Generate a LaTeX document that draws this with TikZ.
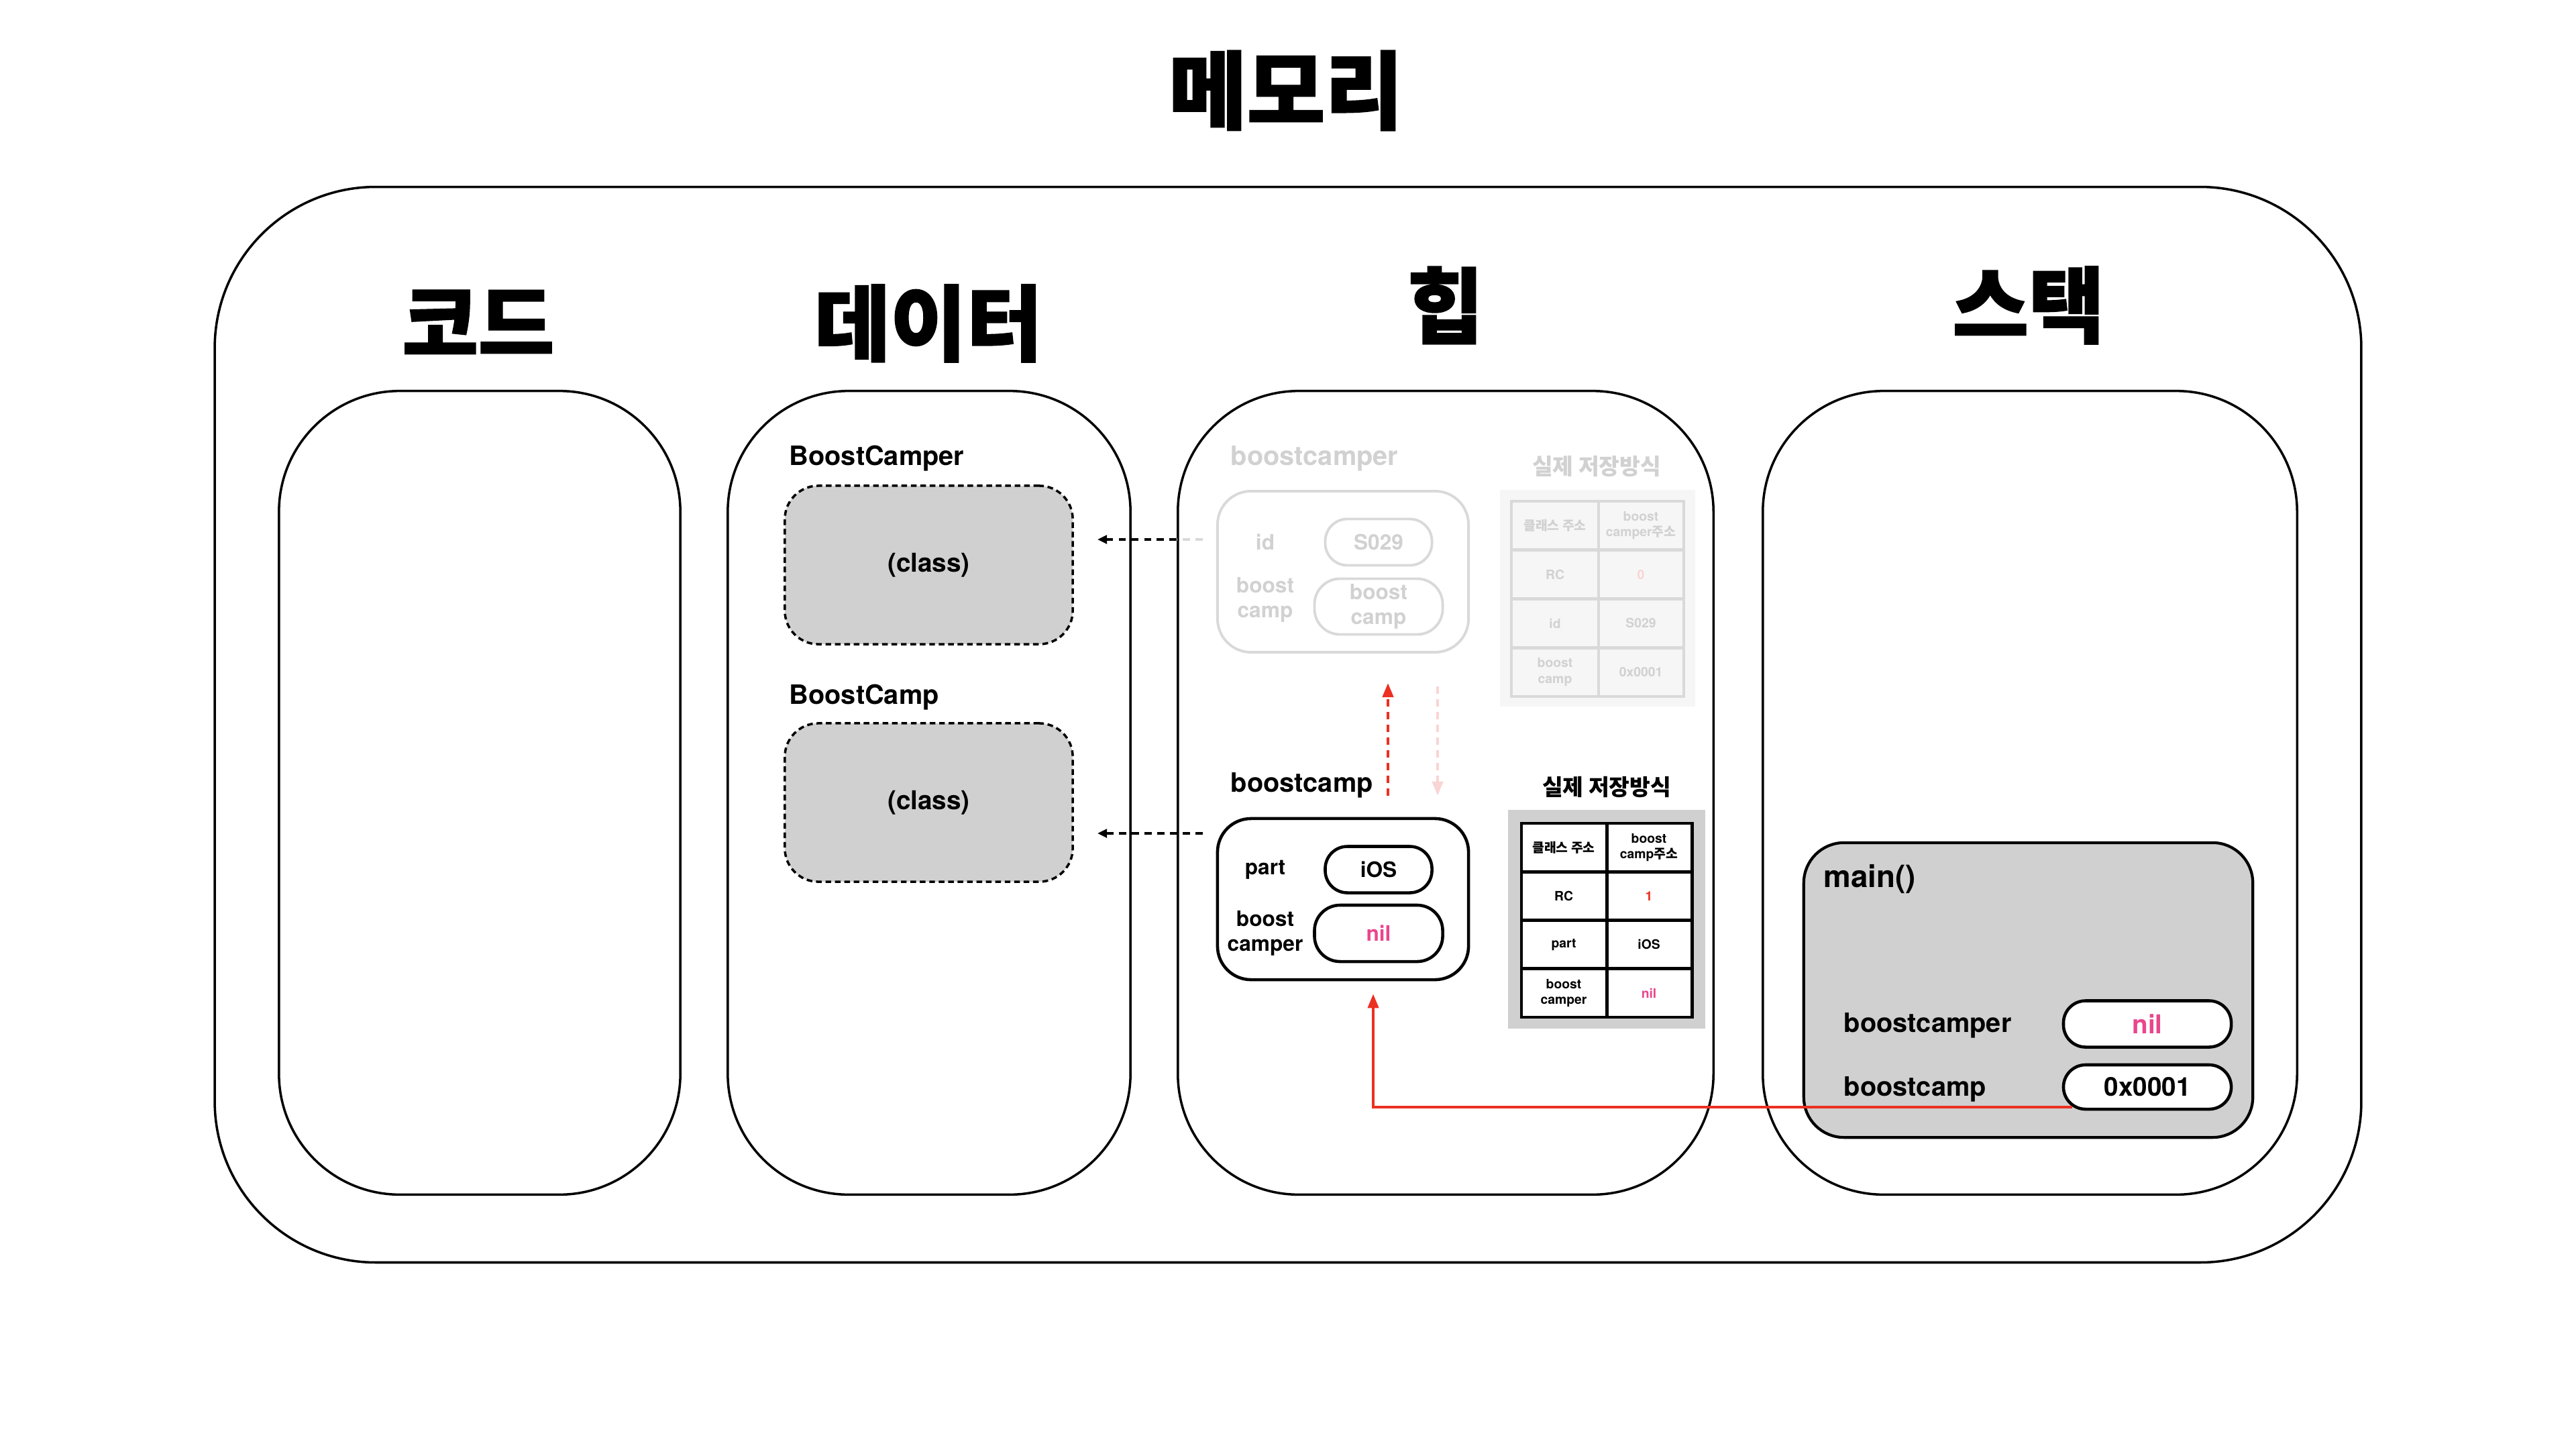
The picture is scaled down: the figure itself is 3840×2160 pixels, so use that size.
\documentclass[tikz,border=0pt]{standalone}
\usepackage{fontspec}
\setmainfont{TeX Gyre Heros}
\newfontfamily\kr{Noto Sans CJK KR}
\newfontfamily\krheavy{Noto Sans CJK KR}[FakeBold=1.6]
\usepackage{tikz}
\usetikzlibrary{arrows.meta, positioning, calc}
\definecolor{boxGray}{gray}{0.815}
\definecolor{fadeLine}{gray}{0.85}
\definecolor{fadeText}{gray}{0.82}
\definecolor{fadeBg}{gray}{0.965}
\definecolor{ptrRed}{RGB}{236,48,34}
\definecolor{nilPink}{RGB}{234,70,140}
\definecolor{fadeRed}{RGB}{250,212,212}

\begin{document}
\begin{tikzpicture}[x=0.01cm, y=-0.01cm, font=\bfseries,
    area/.style={draw, line width=1pt, rounded corners=1.8cm, minimum height=11.97cm},
    heading/.style={font=\krheavy\bfseries\fontsize{35}{40}\selectfont},
    classbox/.style={draw, dash pattern=on 2.4pt off 1.6pt, line width=1pt, fill=boxGray,
        rounded corners=0.5cm, minimum width=4.29cm, minimum height=2.36cm,
        font=\bfseries\fontsize{11}{13}\selectfont},
    objbox/.style={draw, line width=1.3pt, rounded corners=0.5cm, minimum width=3.74cm, minimum height=2.4cm},
    pill/.style={draw, line width=1.3pt, rounded corners=0.33cm, minimum width=1.59cm,
        minimum height=0.69cm, inner sep=0pt, align=center, font=\bfseries\fontsize{9}{10.5}\selectfont},
    field/.style={align=center, font=\bfseries\fontsize{9}{10.5}\selectfont},
    title/.style={anchor=west, inner xsep=0pt, font=\bfseries\fontsize{11.3}{13}\selectfont},
    cell/.style={align=center, inner sep=0pt, font=\bfseries\fontsize{5.5}{6.6}\selectfont},
    faded/.style={draw=fadeLine, text=fadeText},
    ref/.style={dash pattern=on 3pt off 2.4pt, line width=1pt, -{Triangle[length=4pt,width=3.6pt]}},
    ptr/.style={ptrRed, line width=1.1pt, -{Triangle[length=6pt,width=4.6pt]}}]

\useasboundingbox (0,0) rectangle (3840,2160);

% memory
\node[heading, font=\krheavy\bfseries\fontsize{36}{42}\selectfont] (mem) at (1917,135) {메모리};
\node[draw, line width=1pt, rounded corners=2.4cm, minimum width=31.98cm, minimum height=16.02cm] (memory) at (1920,1080) {};

\node[area, minimum width=5.98cm] (code) at (715,1181.5) {};
\node[area, minimum width=6cm] (data) at (1385,1181.5) {};
\node[area, minimum width=7.98cm] (heap) at (2155,1181.5) {};
\node[area, minimum width=7.96cm] (stack) at (3026,1181.5) {};

\node[heading] (codeT) at (713,480) {코드};
\node[heading] (dataT) at (1384,482) {데이터};
\node[heading] (heapT) at (2155,455) {힙};
\node[heading] (stackT) at (3024,455) {스택};

% data
\node[title] (camperT) at (1176,683) {BoostCamper};
\node[classbox] (camperCls) at (1384.5,842) {(class)};
\node[title] (campT) at (1176,1039) {BoostCamp};
\node[classbox] (campCls) at (1384.5,1196) {(class)};

% heap : boostcamper (released)
\node[title, text=fadeText] (camperH) at (1834,683) {boostcamper};
\node[objbox, faded, line width=1.1pt] (camperObj) at (2002,852) {};
\node[field, text=fadeText] (idF) at (1886,808) {id};
\node[pill, faded, line width=1.1pt] (idV) at (2055,808) {S029};
\node[field, text=fadeText] (campF) at (1886,894) {boost\\camp};
\node[pill, faded, line width=1.1pt, minimum width=1.91cm, minimum height=0.83cm, rounded corners=0.38cm] (campV) at (2055,904) {boost\\camp};

\node[font=\kr\bfseries\fontsize{9.5}{11}\selectfont, text=fadeText] (storeA) at (2380,695) {실제 저장방식};
\fill[fadeBg] (2236,730) rectangle (2527,1053);
\draw[fadeLine, line width=1.3pt] (2253,747) rectangle (2510,1038) (2383,747) -- (2383,1038);
\foreach \r in {1,2,3}
    \draw[fadeLine, line width=1.3pt] (2253,{747+72.75*\r}) -- (2510,{747+72.75*\r});
\foreach \a/\b [count=\r] in {{\kr 클래스 주소}/{boost\\camper{\kr 주소}}, RC/{\color{fadeRed}0}, id/S029, {boost\\camp}/0x0001}{
    \node[cell, text=fadeText] (fa\r) at (2318,{747+72.75*(\r-0.5)}) {\a};
    \node[cell, text=fadeText] (fb\r) at (2446,{747+72.75*(\r-0.5)}) {\b};
}

% heap : boostcamp
\node[title] (campH) at (1834,1170) {boostcamp};
\node[objbox] (campObj) at (2002,1340) {};
\node[field] (partF) at (1886,1296) {part};
\node[pill] (partV) at (2055,1296) {iOS};
\node[field] (camperF) at (1886,1391) {boost\\camper};
\node[pill, minimum width=1.91cm, minimum height=0.84cm, rounded corners=0.38cm, text=nilPink] (camperV) at (2055,1391) {nil};

\node[font=\kr\bfseries\fontsize{9.5}{11}\selectfont] (storeB) at (2395,1173) {실제 저장방식};
\fill[boxGray] (2248,1207) rectangle (2542,1533);
\fill[white] (2268,1227) rectangle (2522,1516);
\draw[line width=1.4pt] (2268,1227) rectangle (2522,1516) (2395,1227) -- (2395,1516);
\foreach \r in {1,2,3}
    \draw[line width=1.4pt] (2268,{1227+72.25*\r}) -- (2522,{1227+72.25*\r});
\foreach \a/\b [count=\r] in {{\kr 클래스 주소}/{boost\\camp{\kr 주소}}, RC/{\color{ptrRed}1}, part/iOS, {boost\\camper}/{\color{nilPink}nil}}{
    \node[cell] (ba\r) at (2331,{1227+72.25*(\r-0.5)}) {\a};
    \node[cell] (bb\r) at (2458,{1227+72.25*(\r-0.5)}) {\b};
}

% stack
\node[draw, line width=1.2pt, fill=boxGray, rounded corners=0.6cm, minimum width=6.69cm, minimum height=4.39cm] (mainF) at (3023.5,1475.5) {};
\node[anchor=west, inner xsep=0pt, font=\bfseries\fontsize{13}{15}\selectfont] (mainT) at (2718,1310) {main()};
\node[title] (camperS) at (2748,1528) {boostcamper};
\node[pill, fill=white, minimum width=2.5cm, text=nilPink, font=\bfseries\fontsize{11}{13}\selectfont] (camperP) at (3201,1526) {nil};
\node[title] (campS) at (2748,1623) {boostcamp};
\node[pill, fill=white, minimum width=2.5cm, minimum height=0.66cm, font=\bfseries\fontsize{11}{13}\selectfont] (campP) at (3201,1620) {0x0001};

% references
\coordinate (tipA) at (1636,804);
\coordinate (tipB) at (1636,1242);
\draw[ref, -, fadeLine] ([shift={(-20,0)}]camperObj.west |- tipA) -- (heap.west |- tipA);
\draw[ref] (heap.west |- tipA) -- (tipA);
\draw[ref] ([shift={(-20,0)}]campObj.west |- tipB) -- (tipB);

\draw[ptr, dash pattern=on 3pt off 2.4pt, line width=1.2pt] ([shift={(67,-32)}]campObj.north) -- ([shift={(67,44)}]camperObj.south);
\draw[ptr, fadeRed, dash pattern=on 3pt off 2.4pt, line width=1.2pt] ([shift={(141,49)}]camperObj.south) -- ([shift={(141,-32)}]campObj.north);
\draw[ptr] ([shift={(15,-5)}]campP.south west) -| ([shift={(45,19)}]campObj.south);
\end{tikzpicture}
\end{document}
